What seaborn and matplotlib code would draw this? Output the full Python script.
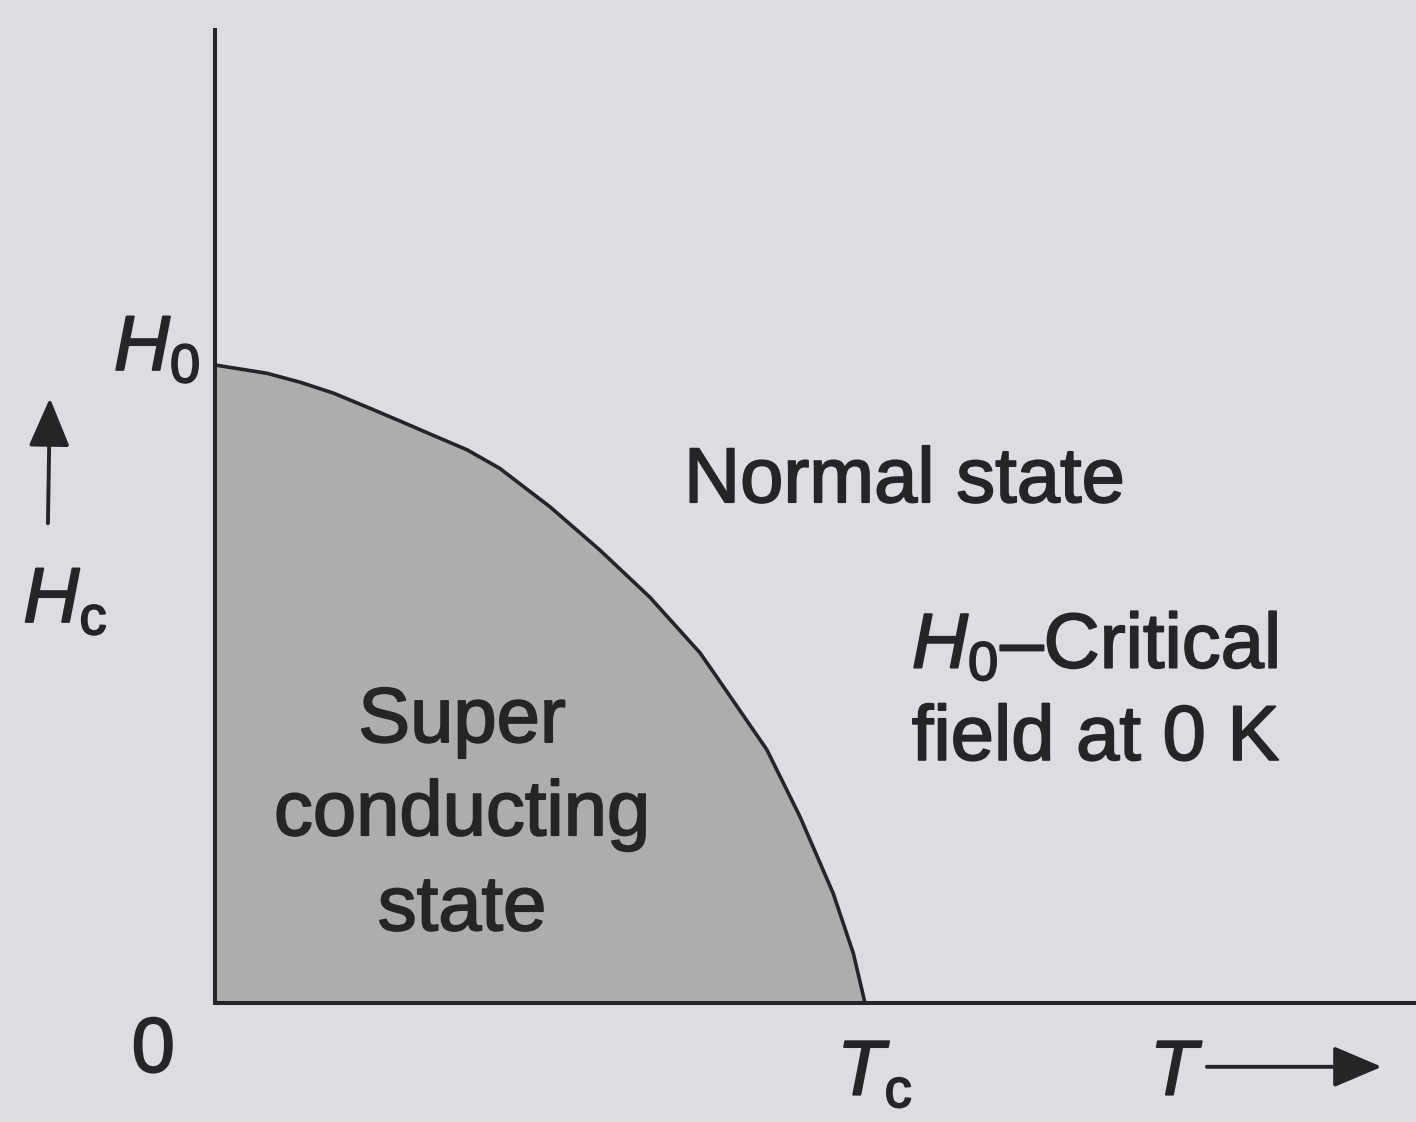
import matplotlib
matplotlib.use("Agg")
import matplotlib.pyplot as plt
import matplotlib.patheffects as pe
import seaborn as sns
import pandas as pd

# Critical field curve of a superconductor, in units of T/Tc and Hc/H0
temperature = [0.0, 0.080, 0.131, 0.182, 0.234, 0.285, 0.335, 0.388, 0.438,
               0.515, 0.592, 0.669, 0.746, 0.772, 0.849, 0.900, 0.951, 0.982,
               1.0]
critical_field = [1.0, 0.987, 0.973, 0.956, 0.934, 0.912, 0.890, 0.867, 0.838,
                  0.778, 0.710, 0.636, 0.549, 0.511, 0.397, 0.292, 0.172,
                  0.078, 0.0]

region_labels = ["Normal state", "$H_0$\u2013Critical", "field at 0 K"]
phase_lines = ["Super", "conducting", "state"]

sns.set_theme(style="white")
plt.rcParams["font.family"] = ["Liberation Sans", "DejaVu Sans"]
plt.rcParams["mathtext.fontset"] = "custom"
plt.rcParams["mathtext.rm"] = "Liberation Sans"
plt.rcParams["mathtext.it"] = "Liberation Sans:italic"
plt.rcParams["mathtext.bf"] = "Liberation Sans:bold"

paper = "#dcdce1"
ink = "#252528"
shade = "#adadb0"

fig = plt.figure(figsize=(14.16, 11.22), dpi=100, facecolor=paper)
ax = fig.add_axes([215 / 1416, 119 / 1122, 1 - 215 / 1416, 973 / 1122])
ax.set_facecolor(paper)

df = pd.DataFrame({"T": temperature, "Hc": critical_field})
ax.fill_between(df["T"], df["Hc"], 0, color=shade, linewidth=0, zorder=1)
sns.lineplot(data=df, x="T", y="Hc", ax=ax, color=ink, linewidth=2.6,
             sort=False, estimator=None, zorder=3)

ax.set_xlim(0, (1416 - 215) / 650)
ax.set_ylim(0, 973 / 638)
ax.set_xticks([])
ax.set_yticks([])
ax.set_xlabel("")
ax.set_ylabel("")
for side in ["top", "right"]:
    ax.spines[side].set_visible(False)
for side in ["left", "bottom"]:
    ax.spines[side].set_color(ink)
    ax.spines[side].set_linewidth(2.9)
    ax.spines[side].set_zorder(4)

fs = 56
bold_ink = [pe.withStroke(linewidth=1.3, foreground=ink)]
kw = dict(color=ink, fontsize=fs, clip_on=False, path_effects=bold_ink)

# Region labels
ax.text(0.7215, 0.785, region_labels[0], ha="left", va="baseline", **kw)
ax.text(1.072, 0.525, region_labels[1], ha="left", va="baseline", **kw)
ax.text(1.072, 0.381, region_labels[2], ha="left", va="baseline", **kw)
for label, base in zip(phase_lines, [0.409, 0.263, 0.114]):
    ax.text(0.380, base, label, ha="center", va="baseline", **kw)

# Axis annotations
ax.text(-0.023, 0.992, "$H_0$", ha="right", va="baseline", **kw)
ax.text(-0.295, 0.597, r"$H_\mathrm{c}$", ha="left", va="baseline", **kw)
ax.text(-0.095, -0.108, "0", ha="center", va="baseline", **kw)
ax.text(0.957, -0.144, r"$T_\mathrm{c}$", ha="left", va="baseline", **kw)
ax.text(1.438, -0.144, "$T$", ha="left", va="baseline", **kw)

arrow = dict(arrowstyle="-|>,head_length=0.4,head_width=0.17", color=ink,
             lw=2.8, mutation_scale=75, shrinkA=0, shrinkB=0)
ax.annotate("", xy=(-0.254, 0.948), xytext=(-0.257, 0.752),
            arrowprops=arrow, annotation_clip=False)
ax.annotate("", xy=(1.795, -0.100), xytext=(1.526, -0.100),
            arrowprops=arrow, annotation_clip=False)

fig.savefig("out.png", dpi=100, facecolor=paper)
